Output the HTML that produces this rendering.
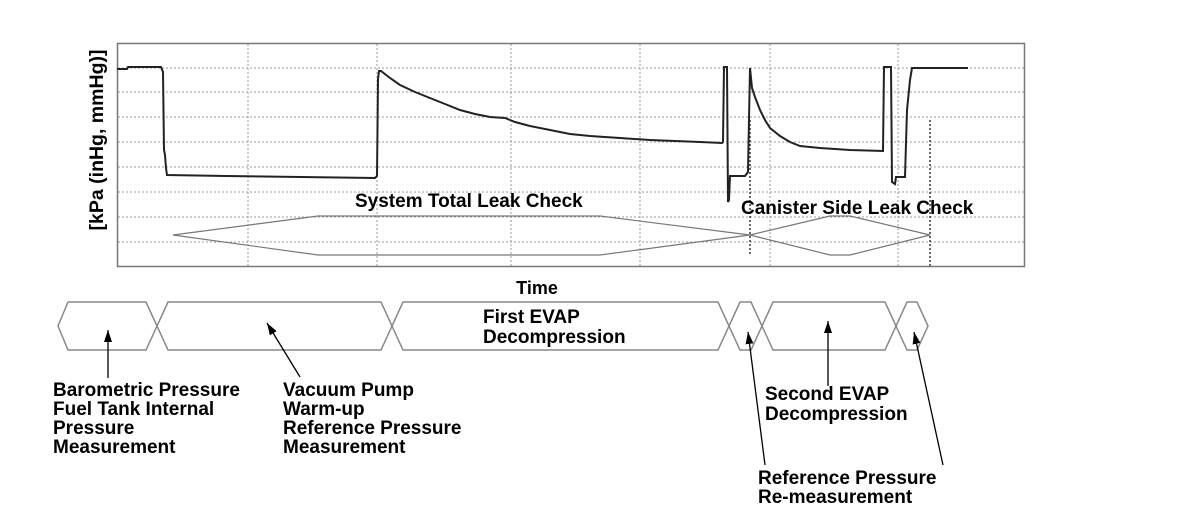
<!DOCTYPE html>
<html><head><meta charset="utf-8"><style>
html,body{margin:0;padding:0;background:#fff;}
svg{display:block;}
text{font-family:"Liberation Sans",sans-serif;font-weight:bold;fill:#000;}
</style></head><body>
<svg width="1200" height="517" viewBox="0 0 1200 517" xmlns="http://www.w3.org/2000/svg">
<defs><marker id="ah" markerWidth="12" markerHeight="8" refX="12" refY="4" orient="auto" markerUnits="userSpaceOnUse">
<path d="M0,0 L12,4 L0,8 Z" fill="#000"/></marker></defs>
<g stroke="#999" stroke-width="1" stroke-dasharray="2,2" fill="none">
<line x1="118" y1="68" x2="1024" y2="68"/><line x1="118" y1="92" x2="1024" y2="92"/>
<line x1="118" y1="117" x2="1024" y2="117"/><line x1="118" y1="142" x2="1024" y2="142"/>
<line x1="118" y1="167" x2="1024" y2="167"/><line x1="118" y1="192" x2="1024" y2="192"/>
<line x1="118" y1="217" x2="1024" y2="217"/><line x1="118" y1="242" x2="1024" y2="242"/>
<line x1="248" y1="44" x2="248" y2="266"/><line x1="377" y1="44" x2="377" y2="266"/>
<line x1="511" y1="44" x2="511" y2="266"/><line x1="640" y1="44" x2="640" y2="266"/>
<line x1="770" y1="44" x2="770" y2="266"/><line x1="898" y1="44" x2="898" y2="266"/>
</g>
<g stroke="#333" stroke-width="1.5" stroke-dasharray="2,2"><line x1="750" y1="120" x2="750" y2="256"/><line x1="930" y1="120" x2="930" y2="266"/></g>
<rect x="117.5" y="43.5" width="907" height="223" fill="none" stroke="#777" stroke-width="1.5"/>
<polyline fill="none" stroke="#222" stroke-width="2" points="117,69 127,69 128,67 161,67 163,72 164,150 165,155 166,168 167,175 226,176 375,178 377,176 378,79 379,71 381,71 390,78 400,85 415,92 430,98 445,104 460,110 475,114 490,117 505,118 515,122 530,126 550,130 570,134 590,136 620,138 650,140 700,142 722,143 723,142 724,67 727,67 728,202 729,200 730,176 745,176 748,172 749,120 750,68 752,88 755,97 760,110 765,120 770,128 780,136 790,142 800,146 820,148 850,150 883,151 884,67 891,67 892,182 895,184 896,177 905,177 907,110 910,80 912,68 968,68"/>
<g stroke="#777" stroke-width="1.2" fill="none">
<polygon points="173,235 318,216 600,216 750,235 600,255 318,255"/>
<polygon points="750,235 830,216 850,216 930,235 850,255 830,255"/>
</g>
<text x="355" y="207" font-size="19">System Total Leak Check</text>
<text x="741" y="214" font-size="19">Canister Side Leak Check</text>
<text x="537" y="294" font-size="18" text-anchor="middle">Time</text>
<text transform="translate(103,140) rotate(-90)" font-size="19.5" text-anchor="middle">[kPa (inHg, mmHg)]</text>
<g stroke="#888" stroke-width="1.5" fill="none">
<polygon points="58,326 68,302 146,302 157,326 146,350 68,350"/>
<polygon points="157,326 168,302 381,302 392,326 381,350 168,350"/>
<polygon points="392,326 403,302 718,302 729,326 718,350 403,350"/>
<polygon points="729,326 740,302 751,302 762,326 751,350 740,350"/>
<polygon points="762,326 773,302 885,302 896,326 885,350 773,350"/>
<polygon points="896,326 907,302 917,302 928,326 917,350 907,350"/>
</g>
<text x="483" y="323" font-size="19">First EVAP</text>
<text x="483" y="343" font-size="19">Decompression</text>
<g font-size="19">
<text x="53" y="396">Barometric Pressure</text><text x="53" y="415">Fuel Tank Internal</text>
<text x="53" y="434">Pressure</text><text x="53" y="453">Measurement</text>
<text x="283" y="396">Vacuum Pump</text><text x="283" y="415">Warm-up</text>
<text x="283" y="434">Reference Pressure</text><text x="283" y="453">Measurement</text>
<text x="765" y="400">Second EVAP</text><text x="765" y="420">Decompression</text>
<text x="758" y="484">Reference Pressure</text><text x="758" y="503">Re-measurement</text>
</g>
<g stroke="#000" stroke-width="1.3" fill="none">
<line x1="108" y1="378" x2="108" y2="330" marker-end="url(#ah)"/>
<line x1="300" y1="377" x2="267" y2="323" marker-end="url(#ah)"/>
<line x1="765" y1="465" x2="748" y2="332" marker-end="url(#ah)"/>
<line x1="828" y1="386" x2="828" y2="321" marker-end="url(#ah)"/>
<line x1="943" y1="465" x2="914" y2="332" marker-end="url(#ah)"/>
</g>
</svg>
</body></html>
